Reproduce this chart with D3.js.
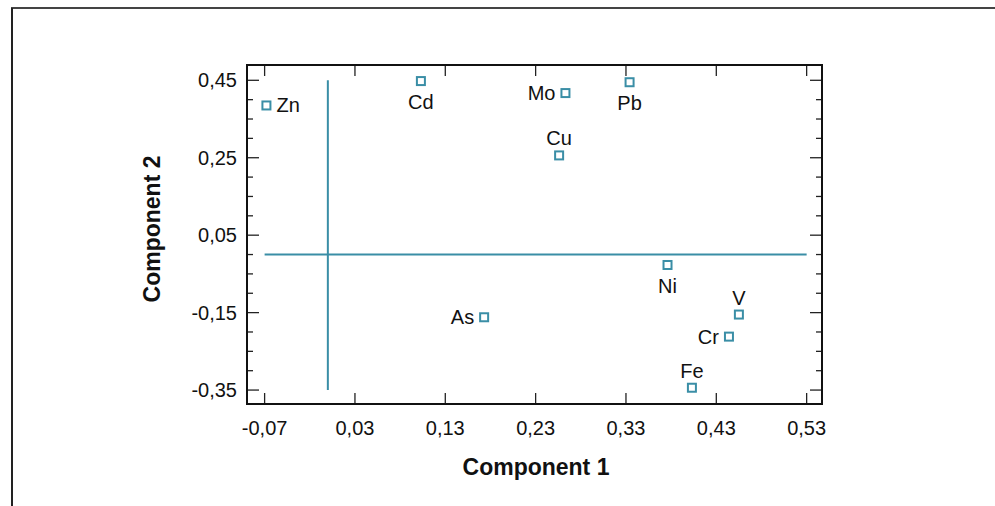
<!DOCTYPE html>
<html>
<head>
<meta charset="utf-8">
<script src="https://cdn.jsdelivr.net/npm/d3@7"></script>
<style>
  body { margin: 0; background: white; }
  text { font-family: "Liberation Sans", Arial, sans-serif; }
</style>
</head>
<body>
<div class="chart"></div>
<script>
// element loadings
var elements = ["Zn", "Cd", "Mo", "Pb", "Cu", "As", "Ni", "V", "Cr", "Fe"];
var comp1 = [-0.068, 0.103, 0.263, 0.334, 0.256, 0.173, 0.376, 0.455, 0.444, 0.403];
var comp2 = [0.385, 0.448, 0.417, 0.445, 0.256, -0.162, -0.027, -0.155, -0.212, -0.344];
var labelSide = ["right", "below", "left", "below", "above", "left", "below", "above", "left", "above"];

var xTicks = [-0.07, 0.03, 0.13, 0.23, 0.33, 0.43, 0.53];
var yTicks = [0.45, 0.25, 0.05, -0.15, -0.35];
var yMinor = d3.range(-0.35, 0.4501, 0.05);

var points = elements.map(function(d, i) {
    return { name: d, x: comp1[i], y: comp2[i], side: labelSide[i] };
});

var teal = "#3a8ea6";
var locale = d3.formatLocale({ decimal: ",", thousands: ".", grouping: [3], currency: ["", ""], minus: "-" });
var fmt = locale.format(".2f");

var svg = d3.select(".chart")
    .append("svg")
    .attr("width", 995)
    .attr("height", 506);

// outer frame (only top and left edges are visible)
svg.append("line")
    .attr("x1", 11).attr("y1", 8).attr("x2", 995).attr("y2", 8)
    .attr("stroke", "#444").attr("stroke-width", 2);
svg.append("line")
    .attr("x1", 12).attr("y1", 8).attr("x2", 12).attr("y2", 506)
    .attr("stroke", "#222").attr("stroke-width", 2);

var pLeft = 247, pRight = 822, pTop = 65, pBottom = 404;

var x = d3.scaleLinear()
    .domain([-0.0895, 0.547])
    .range([pLeft, pRight]);

var y = d3.scaleLinear()
    .domain([-0.386, 0.4895])
    .range([pBottom, pTop]);

// ticks, pointing inwards on all four sides
var tickG = svg.append("g").attr("stroke", "#222").attr("stroke-width", 1.3);

xTicks.forEach(function(t) {
    tickG.append("line").attr("x1", x(t)).attr("x2", x(t)).attr("y1", pBottom).attr("y2", pBottom - 11);
    tickG.append("line").attr("x1", x(t)).attr("x2", x(t)).attr("y1", pTop).attr("y2", pTop + 11);
});

yMinor.forEach(function(t) {
    var major = yTicks.some(function(m) { return Math.abs(m - t) < 1e-6; });
    var len = major ? 12 : 6;
    tickG.append("line").attr("x1", pLeft).attr("x2", pLeft + len).attr("y1", y(t)).attr("y2", y(t));
    tickG.append("line").attr("x1", pRight).attr("x2", pRight - len).attr("y1", y(t)).attr("y2", y(t));
});

svg.append("rect")
    .attr("x", pLeft)
    .attr("y", pTop)
    .attr("width", pRight - pLeft)
    .attr("height", pBottom - pTop)
    .attr("fill", "none")
    .attr("stroke", "#111")
    .attr("stroke-width", 2);

// tick labels
svg.selectAll(".xLabel")
    .data(xTicks)
    .enter().append("text")
    .attr("class", "xLabel")
    .attr("x", function(d) { return x(d); })
    .attr("y", 435)
    .attr("text-anchor", "middle")
    .style("font-size", "20px")
    .attr("fill", "#111")
    .text(fmt);

svg.selectAll(".yLabel")
    .data(yTicks)
    .enter().append("text")
    .attr("class", "yLabel")
    .attr("x", 237)
    .attr("y", function(d) { return y(d) + 7; })
    .attr("text-anchor", "end")
    .style("font-size", "20px")
    .attr("fill", "#111")
    .text(fmt);

// axis titles
svg.append("text")
    .attr("x", 536)
    .attr("y", 475)
    .attr("text-anchor", "middle")
    .style("font-size", "23px")
    .style("font-weight", "bold")
    .attr("fill", "#111")
    .text("Component 1");

svg.append("text")
    .attr("transform", "translate(160,229) rotate(-90)")
    .attr("text-anchor", "middle")
    .style("font-size", "23px")
    .style("font-weight", "bold")
    .attr("fill", "#111")
    .text("Component 2");

// zero reference lines
svg.append("line")
    .attr("x1", x(-0.07)).attr("x2", x(0.53))
    .attr("y1", y(0)).attr("y2", y(0))
    .attr("stroke", teal).attr("stroke-width", 2);
svg.append("line")
    .attr("x1", x(0)).attr("x2", x(0))
    .attr("y1", y(0.45)).attr("y2", y(-0.35))
    .attr("stroke", teal).attr("stroke-width", 2);

// markers
var point = svg.selectAll(".point")
    .data(points)
    .enter().append("g")
    .attr("class", "point")
    .attr("transform", function(d) {
        return "translate(" + x(d.x) + "," + y(d.y) + ")";
    });

point.append("rect")
    .attr("x", -4)
    .attr("y", -4)
    .attr("width", 8)
    .attr("height", 8)
    .attr("fill", "white")
    .attr("stroke", teal)
    .attr("stroke-width", 2);

point.append("text")
    .attr("x", function(d) {
        if (d.side === "right") return 10;
        if (d.side === "left") return -10;
        return 0;
    })
    .attr("y", function(d) {
        if (d.side === "below") return 28;
        if (d.side === "above") return -10;
        return 7;
    })
    .attr("text-anchor", function(d) {
        if (d.side === "right") return "start";
        if (d.side === "left") return "end";
        return "middle";
    })
    .style("font-size", "20px")
    .attr("fill", "#111")
    .text(function(d) { return d.name; });
</script>
</body>
</html>
